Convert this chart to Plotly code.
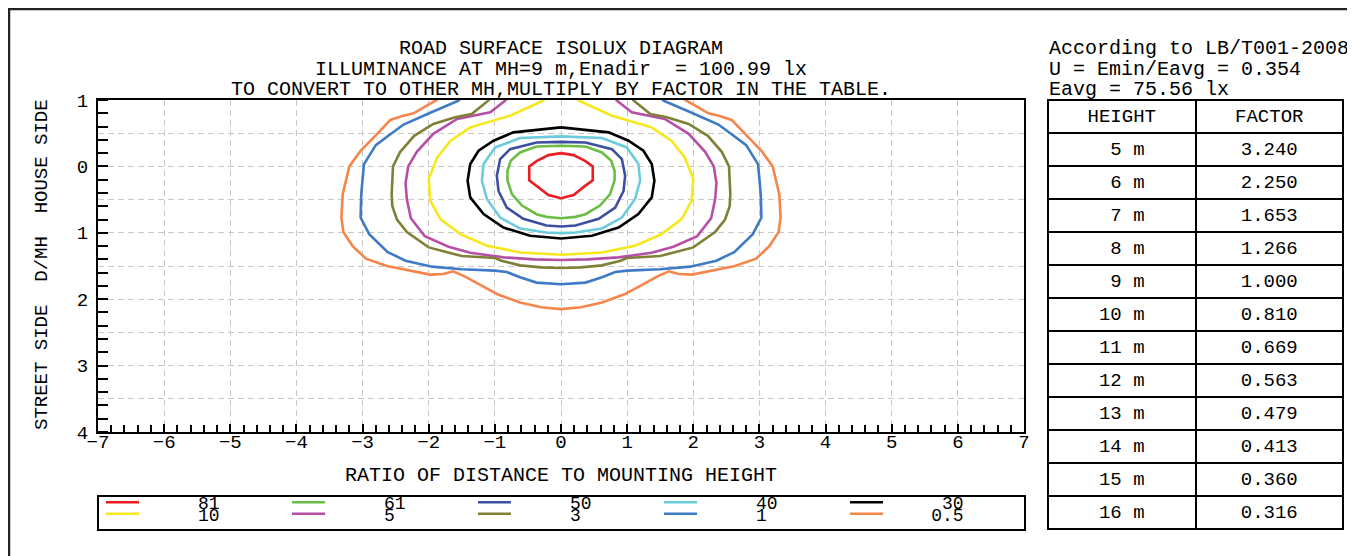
import plotly.graph_objects as go

# page body has an 8px margin: figure is placed at (8, 8) in the window
W, H = 1347, 548
NB = "\u00a0"
FONT = "Liberation Mono"

# ---------------- data ----------------
levels = ["81", "61", "50", "40", "30", "10", "5", "3", "1", "0.5"]
colors = ["#ec1c24", "#6cbd45", "#3c4fa0", "#6dcbdc", "#000000",
          "#f7e71b", "#b64fa6", "#7e8036", "#3f7bc5", "#f6854b"]

# right half of each isolux line (x >= 0), from top (house side) to bottom (street side)
c81_x = [0.00, 0.19, 0.37, 0.48, 0.48, 0.37, 0.19, 0.00]
c81_y = [-0.20, -0.17, -0.08, 0.00, 0.21, 0.29, 0.43, 0.48]

c61_x = [0.00, 0.37, 0.62, 0.76, 0.81, 0.81, 0.74, 0.59, 0.37, 0.22, 0.00]
c61_y = [-0.31, -0.30, -0.21, -0.085, 0.065, 0.21, 0.42, 0.59, 0.72, 0.76, 0.78]

c50_x = [0.00, 0.37, 0.77, 0.92, 0.97, 0.945, 0.82, 0.57, 0.22, 0.00]
c50_y = [-0.37, -0.36, -0.26, -0.11, 0.14, 0.37, 0.62, 0.79, 0.89, 0.905]

c40_x = [0.00, 0.62, 0.995, 1.17, 1.196, 1.12, 0.92, 0.62, 0.22, 0.00]
c40_y = [-0.452, -0.427, -0.286, -0.035, 0.216, 0.49, 0.77, 0.935, 0.995, 1.005]

c30_x = [0.00, 0.72, 1.02, 1.246, 1.372, 1.412, 1.372, 1.17, 0.87, 0.467, 0.00]
c30_y = [-0.588, -0.513, -0.387, -0.236, -0.035, 0.216, 0.467, 0.719, 0.92, 1.045, 1.085]

c10_x = [0.22, 0.27, 0.77, 1.37, 1.67, 1.87, 2.00, 1.975, 1.824, 1.52, 1.12, 0.618, 0.00]
c10_y = [-1.05, -0.99, -0.764, -0.588, -0.387, -0.136, 0.19, 0.518, 0.794, 1.02, 1.196, 1.296, 1.33]

c5_x = [0.80, 0.844, 1.07, 1.57, 1.93, 2.18, 2.31, 2.35, 2.33, 2.27, 2.06, 1.70, 1.37, 0.87, 0.40, 0.00]
c5_y = [-1.05, -0.99, -0.814, -0.714, -0.49, -0.22, 0.00, 0.25, 0.50, 0.78, 1.05, 1.21, 1.30, 1.37, 1.40, 1.41]

c3_x = [1.05, 1.10, 1.35, 1.60, 1.93, 2.22, 2.43, 2.54, 2.56, 2.55, 2.48, 2.33, 2.00, 1.50, 1.00, 0.90, 0.62, 0.30, 0.00]
c3_y = [-1.05, -0.99, -0.79, -0.74, -0.64, -0.46, -0.22, 0.00, 0.42, 0.60, 0.80, 0.99, 1.22, 1.35, 1.38, 1.42, 1.49, 1.52, 1.53]

c1_x = [1.50, 1.55, 1.95, 2.38, 2.60, 2.80, 2.98, 3.02, 3.03, 2.90, 2.62, 2.35, 1.95, 1.50, 1.00, 0.82, 0.62, 0.37, 0.00]
c1_y = [-1.05, -0.99, -0.82, -0.63, -0.47, -0.32, -0.03, 0.42, 0.77, 1.02, 1.29, 1.42, 1.51, 1.55, 1.57, 1.59, 1.67, 1.75, 1.775]

c05_x = [1.85, 1.88, 2.03, 2.23, 2.40, 2.58, 2.75, 3.03, 3.20, 3.30, 3.32, 3.29, 3.15, 2.95, 2.63, 2.33,
         1.98, 1.78, 1.63, 1.45, 1.20, 0.95, 0.62, 0.30, 0.00]
c05_y = [-1.05, -1.00, -0.915, -0.80, -0.76, -0.70, -0.52, -0.236, 0.00, 0.42, 0.77, 0.99, 1.20, 1.39, 1.50, 1.56,
         1.63, 1.62, 1.58, 1.66, 1.80, 1.93, 2.05, 2.12, 2.15]

half_x = [c81_x, c61_x, c50_x, c40_x, c30_x, c10_x, c5_x, c3_x, c1_x, c05_x]
half_y = [c81_y, c61_y, c50_y, c40_y, c30_y, c10_y, c5_y, c3_y, c1_y, c05_y]

x_ticks = [-7, -6, -5, -4, -3, -2, -1, 0, 1, 2, 3, 4, 5, 6, 7]
y_tickvals = [-1, -0.5, 0, 0.5, 1, 1.5, 2, 2.5, 3, 3.5, 4]
y_ticktext = ["1", "", "0", "", "1", "", "2", "", "3", "", "4"]

heights = [5, 6, 7, 8, 9, 10, 11, 12, 13, 14, 15, 16]
factors = [3.240, 2.250, 1.653, 1.266, 1.000, 0.810, 0.669, 0.563, 0.479, 0.413, 0.360, 0.316]

title_lines = ["ROAD SURFACE ISOLUX DIAGRAM",
               "ILLUMINANCE AT MH=9 m,Enadir" + NB + NB + "= 100.99 lx",
               "TO CONVERT TO OTHER MH,MULTIPLY BY FACTOR IN THE TABLE."]
info_lines = ["According to LB/T001-2008", "U = Emin/Eavg = 0.354", "Eavg = 75.56 lx"]


def fx(p):
    return (p - 8) / W


def fy(p):
    return 1 - (p - 8) / H


fig = go.Figure()

for i, lev in enumerate(levels):
    hx, hy = half_x[i], half_y[i]
    xs = [-v for v in hx] + hx[::-1][1:]
    ys = list(hy) + hy[::-1][1:]
    pad = 4 if len(lev) >= 3 else 5
    fig.add_trace(go.Scatter(
        x=xs, y=ys, mode="lines", name=NB * pad + lev,
        line=dict(color=colors[i], width=2.6),
        legend="legend" if i < 5 else "legend2",
        hoverinfo="skip",
    ))

hcol = [(f"{h:>2d} m").replace(" ", NB) for h in heights]
fcol = [f"{f:.3f}" for f in factors]
fig.add_trace(go.Table(
    domain=dict(x=[fx(1048), fx(1343)], y=[fy(532), fy(100)]),
    columnwidth=[1, 1],
    header=dict(values=["HEIGHT", "FACTOR"], align="center", height=33,
                font=dict(family=FONT, size=19, color="black"),
                line=dict(color="black", width=2), fill=dict(color="white")),
    cells=dict(values=[hcol, fcol], align="center", height=33,
               font=dict(family=FONT, size=19, color="black"),
               line=dict(color="black", width=2), fill=dict(color="white")),
))

axis_font = dict(family=FONT, size=19, color="black")
fig.update_layout(
    width=W, height=H,
    margin=dict(l=0, r=0, t=0, b=0, autoexpand=False),
    paper_bgcolor="white", plot_bgcolor="white",
    showlegend=True,
    xaxis=dict(domain=[fx(98), fx(1024)], range=[-7, 7], tickmode="array", tickvals=x_ticks,
               showgrid=True, gridcolor="#c8c8c8", griddash="6px,4px", gridwidth=1,
               zeroline=False, showline=True, linecolor="black", linewidth=2, mirror=True,
               ticks="inside", ticklen=8, tickwidth=1.5, tickcolor="black",
               minor=dict(dtick=0.2, tick0=0, ticks="inside", ticklen=7, tickwidth=1.5,
                          tickcolor="black", showgrid=False),
               tickfont=axis_font, ticklabelstandoff=-9),
    yaxis=dict(domain=[fy(432), fy(100)], range=[4, -1], tickmode="array",
               tickvals=y_tickvals, ticktext=y_ticktext,
               showgrid=True, gridcolor="#c8c8c8", griddash="6px,4px", gridwidth=1,
               zeroline=False, showline=True, linecolor="black", linewidth=2, mirror=True,
               ticks="", minor=dict(dtick=0.2, tick0=0, ticks="inside", ticklen=10,
                                    tickwidth=1.5, tickcolor="black", showgrid=False),
               tickfont=axis_font, ticklabelstandoff=4),
    legend=dict(orientation="h", x=fx(101), xanchor="left", y=fy(502.5), yanchor="middle",
                font=dict(family=FONT, size=18, color="black"), bgcolor="rgba(0,0,0,0)",
                borderwidth=0, itemwidth=33, entrywidth=138, entrywidthmode="pixels",
                traceorder="normal"),
    legend2=dict(orientation="h", x=fx(101), xanchor="left", y=fy(514), yanchor="middle",
                 font=dict(family=FONT, size=18, color="black"), bgcolor="rgba(0,0,0,0)",
                 borderwidth=0, itemwidth=33, entrywidth=138, entrywidthmode="pixels",
                 traceorder="normal"),
)

shapes = [
    dict(type="rect", xref="paper", yref="paper", x0=fx(98), x1=fx(1025), y0=fy(530), y1=fy(496),
         line=dict(color="black", width=2)),
    dict(type="rect", xref="paper", yref="paper", x0=fx(9), x1=1.02, y0=-0.05, y1=fy(9),
         line=dict(color="#222222", width=2.5)),
]
fig.update_layout(shapes=shapes)

ann = []
for k, t in enumerate(title_lines):
    ann.append(dict(text=t, x=fx(561), y=fy(48 + 21 * k), xref="paper", yref="paper",
                    xanchor="center", yanchor="middle", showarrow=False,
                    font=dict(family=FONT, size=20, color="black")))
for k, t in enumerate(info_lines):
    ann.append(dict(text=t, x=fx(1047), y=fy(48 + 21 * k), xref="paper", yref="paper",
                    xanchor="left", yanchor="middle", showarrow=False,
                    font=dict(family=FONT, size=20, color="black")))
ann.append(dict(text="RATIO OF DISTANCE TO MOUNTING HEIGHT", x=fx(561), y=fy(475),
                xref="paper", yref="paper", xanchor="center", yanchor="middle", showarrow=False,
                font=dict(family=FONT, size=20, color="black")))
ann.append(dict(text="STREET SIDE" + NB * 2 + "D/MH" + NB * 2 + "HOUSE SIDE",
                x=fx(42), y=fy(265), xref="paper", yref="paper", xanchor="center",
                yanchor="middle", textangle=-90, showarrow=False,
                font=dict(family=FONT, size=19, color="black")))
fig.update_layout(annotations=ann)

fig.write_html("out.html")
